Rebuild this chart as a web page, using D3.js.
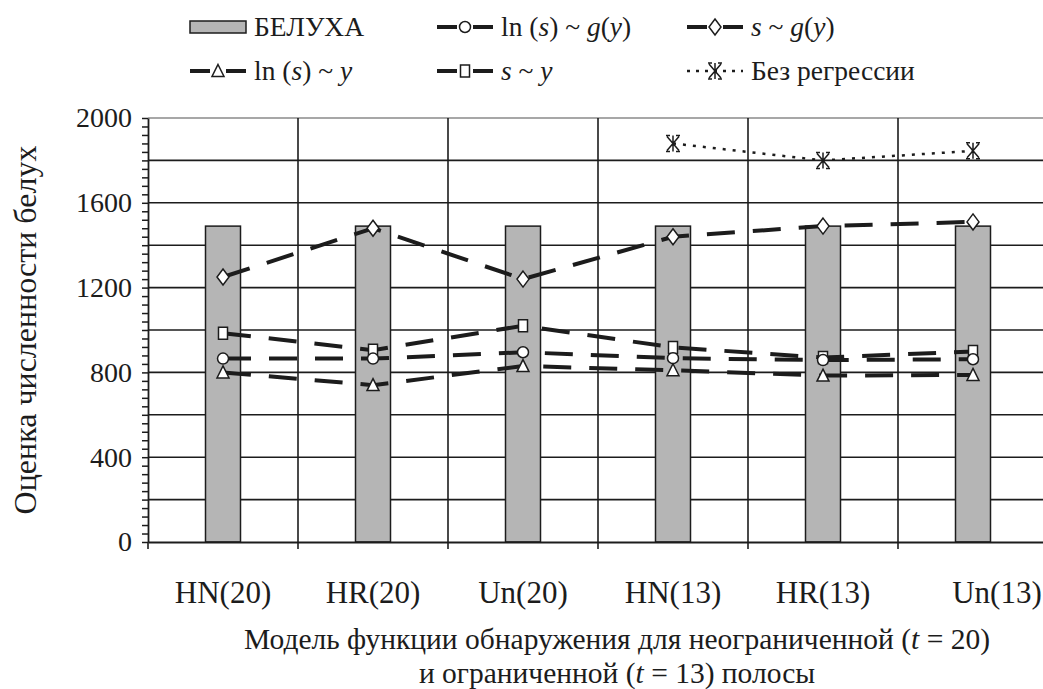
<!DOCTYPE html>
<html>
<head>
<meta charset="utf-8">
<script src="https://cdn.jsdelivr.net/npm/d3@7"></script>
<style>
  html, body { margin: 0; padding: 0; background: #ffffff; }
  svg { display: block; font-family: "Liberation Serif", "Times New Roman", serif; }
</style>
</head>
<body>
<svg id="chart" width="1043" height="689"></svg>
<script>
// Model of detection function, per strip variant
const categories = ["HN(20)", "HR(20)", "Un(20)", "HN(13)", "HR(13)", "Un(13)"];
// Beluga abundance estimates
const belukha      = [1490, 1490, 1490, 1490, 1490, 1490];
const lnS_gY       = [865, 865, 895, 867, 858, 862];
const s_gY         = [1250, 1480, 1240, 1440, 1490, 1510];
const lnS_Y        = [800, 740, 830, 810, 785, 788];
const s_Y          = [985, 905, 1020, 918, 870, 899];
const noRegression = [null, null, null, 1880, 1800, 1845];
const yTickLabels  = [0, 400, 800, 1200, 1600, 2000];

(function () {
const svg = d3.select("#chart");
const W = 1043, H = 689;
const pLeft = 148, pRight = 1048, pTop = 118, pBottom = 542;
const ink = "#1c1c1c";
const serif = "Liberation Serif, Times New Roman, serif";

const x = d3.scaleBand().domain(categories).range([pLeft, pRight]).padding(0);
const y = d3.scaleLinear().domain([0, 2000]).range([pBottom, pTop]);
const cx = c => x(c) + x.bandwidth() / 2;

svg.append("rect").attr("width", W).attr("height", H).attr("fill", "#ffffff");

// horizontal grid every 200
svg.append("g").selectAll("line")
  .data(d3.range(200, 2001, 200))
  .join("line")
  .attr("x1", pLeft).attr("x2", pRight)
  .attr("y1", d => y(d)).attr("y2", d => y(d))
  .attr("stroke", d => d === 2000 ? "#8a8a8a" : ink)
  .attr("stroke-width", 1.6);

// vertical grid at category boundaries
svg.append("g").selectAll("line")
  .data(categories.slice(1))
  .join("line")
  .attr("x1", d => x(d)).attr("x2", d => x(d))
  .attr("y1", y(2000)).attr("y2", y(0))
  .attr("stroke", ink).attr("stroke-width", 1.6);

// bars
const barW = 35;
svg.append("g").selectAll("rect")
  .data(categories.map((c, i) => ({ c, v: belukha[i] })))
  .join("rect")
  .attr("x", d => cx(d.c) - barW / 2)
  .attr("width", barW)
  .attr("y", d => y(d.v))
  .attr("height", d => y(0) - y(d.v))
  .attr("fill", "#b5b5b5")
  .attr("stroke", ink).attr("stroke-width", 1.5);

// y axis: minor ticks every 40, labels every 400
const yMinor = svg.append("g").attr("transform", `translate(${pLeft},0)`)
  .call(d3.axisLeft(y).tickValues(d3.range(0, 2001, 40)).tickSize(6).tickSizeOuter(0).tickFormat(""));
yMinor.select(".domain").attr("stroke", ink).attr("stroke-width", 1.8);
yMinor.selectAll(".tick line").attr("stroke", ink).attr("stroke-width", 1.5);

const yLab = svg.append("g").attr("transform", `translate(${pLeft},0)`)
  .call(d3.axisLeft(y).tickValues(yTickLabels).tickSize(0).tickPadding(16).tickFormat(d3.format("d")));
yLab.select(".domain").remove();
yLab.attr("font-family", serif);
yLab.selectAll("text").attr("font-size", 28).attr("fill", ink);

// x axis
const xAxis = svg.append("g").attr("transform", `translate(0,${pBottom})`)
  .call(d3.axisBottom(x).tickSize(0).tickPadding(39).tickSizeOuter(0));
xAxis.attr("font-family", serif);
xAxis.select(".domain").attr("stroke", ink).attr("stroke-width", 1.8);
xAxis.selectAll("text").attr("font-size", 31).attr("fill", ink)
  .attr("dx", (d, i) => i === categories.length - 1 ? 24 : 0);
svg.append("g").selectAll("line")
  .data(categories.map(c => x(c)))
  .join("line")
  .attr("x1", d => d).attr("x2", d => d)
  .attr("y1", pBottom).attr("y2", pBottom + 7)
  .attr("stroke", ink).attr("stroke-width", 1.6);

// marker shapes
const symDiamond = "M0,-8L6,0L0,8L-6,0Z";
const symSquare  = "M-4.5,-6H4.5V6H-4.5Z";
const symTri     = "M0,-6.5L6,5.5H-6Z";
const symZhe     = "M0,-8V8M-6,-7L6,7M6,-7L-6,7M-7,-8H-3M3,-8H7M-7,8H-3M3,8H7";

function marker(g, type) {
  if (type === "circle") {
    g.append("circle").attr("r", 5.5).attr("fill", "#fff").attr("stroke", ink).attr("stroke-width", 1.5);
  } else if (type === "zhe") {
    g.append("path").attr("d", symZhe).attr("fill", "none").attr("stroke", ink).attr("stroke-width", 1.5);
  } else {
    const d = type === "diamond" ? symDiamond : type === "square" ? symSquare : symTri;
    g.append("path").attr("d", d).attr("fill", "#fff").attr("stroke", ink).attr("stroke-width", 1.5);
  }
}

const series = [
  { vals: s_gY,   type: "diamond", dash: "28,18", w: 4 },
  { vals: s_Y,    type: "square",  dash: "28,18", w: 4 },
  { vals: lnS_gY, type: "circle",  dash: "28,18", w: 4 },
  { vals: lnS_Y,  type: "triangle",dash: "28,18", w: 4 },
  { vals: noRegression, type: "zhe", dash: "3,7", w: 2.5 }
];

const line = d3.line()
  .defined(d => d.v != null)
  .x(d => cx(d.c)).y(d => y(d.v));

series.forEach(s => {
  const pts = categories.map((c, i) => ({ c, v: s.vals[i] }));
  svg.append("path").datum(pts)
    .attr("d", line)
    .attr("fill", "none").attr("stroke", ink)
    .attr("stroke-width", s.w).attr("stroke-dasharray", s.dash);
});
series.forEach(s => {
  categories.forEach((c, i) => {
    if (s.vals[i] == null) return;
    const g = svg.append("g").attr("transform", `translate(${cx(c)},${y(s.vals[i])})`);
    marker(g, s.type);
  });
});

// legend
function richText(sel, parts) {
  parts.forEach(([t, it]) => {
    sel.append("tspan").text(t).attr("font-style", it ? "italic" : "normal");
  });
}
const legendItems = [
  { col: 0, row: 0, type: "bar", label: [["БЕЛУХА", 0]] },
  { col: 1, row: 0, type: "circle", label: [["ln (", 0], ["s", 1], [") ~ ", 0], ["g", 1], ["(", 0], ["y", 1], [")", 0]] },
  { col: 2, row: 0, type: "diamond", label: [["s", 1], [" ~ ", 0], ["g", 1], ["(", 0], ["y", 1], [")", 0]] },
  { col: 0, row: 1, type: "triangle", label: [["ln (", 0], ["s", 1], [") ~ ", 0], ["y", 1]] },
  { col: 1, row: 1, type: "square", label: [["s", 1], [" ~ ", 0], ["y", 1]] },
  { col: 2, row: 1, type: "zhe", label: [["Без регрессии", 0]] }
];
const colX = [190, 437, 687], rowY = [27, 71];
legendItems.forEach(it => {
  const g = svg.append("g").attr("transform", `translate(${colX[it.col]},${rowY[it.row]})`);
  if (it.type === "bar") {
    g.append("rect").attr("x", 0).attr("y", -6).attr("width", 56).attr("height", 12)
      .attr("fill", "#b5b5b5").attr("stroke", ink).attr("stroke-width", 1.5);
  } else {
    const dotted = it.type === "zhe";
    g.append("line").attr("x1", 0).attr("x2", 56).attr("y1", 0).attr("y2", 0)
      .attr("stroke", ink).attr("stroke-width", dotted ? 2.5 : 4)
      .attr("stroke-dasharray", dotted ? "3,6" : "20,16,20");
    const m = g.append("g").attr("transform", "translate(28,0)");
    marker(m, it.type);
  }
  const t = g.append("text").attr("x", 64).attr("y", 9)
    .attr("font-size", 27.5).attr("fill", ink);
  richText(t, it.label);
});

// axis titles
svg.append("text")
  .attr("transform", "translate(36,330) rotate(-90)")
  .attr("text-anchor", "middle").attr("font-size", 32).attr("fill", ink)
  .text("Оценка численности белух");

const t1 = svg.append("text").attr("x", 617).attr("y", 649)
  .attr("text-anchor", "middle").attr("font-size", 29.5).attr("fill", ink);
richText(t1, [["Модель функции обнаружения для неограниченной (", 0], ["t", 1], [" = 20)", 0]]);
const t2 = svg.append("text").attr("x", 617).attr("y", 683)
  .attr("text-anchor", "middle").attr("font-size", 29.5).attr("fill", ink);
richText(t2, [["и ограниченной (", 0], ["t", 1], [" = 13) полосы", 0]]);
})();
</script>
</body>
</html>
